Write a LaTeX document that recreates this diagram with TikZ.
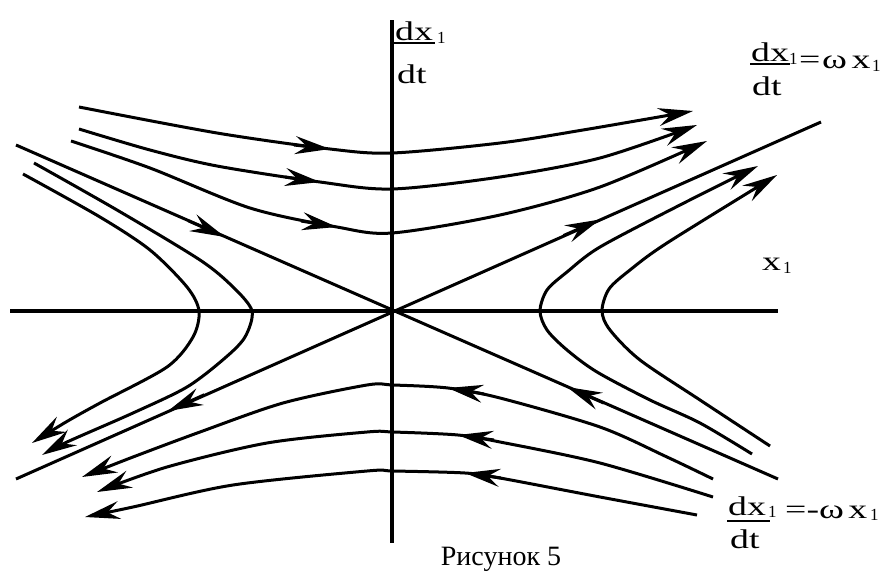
\documentclass[tikz,border=0pt]{standalone}
\usepackage{fontspec}
\setmainfont{Liberation Serif}
\newfontfamily\widefont[FakeStretch=1.4]{Liberation Serif}
\usetikzlibrary{arrows.meta}
\begin{document}
\begin{tikzpicture}[x=1pt,y=-1pt,
  ax/.style={line width=3.3pt},
  traj/.style={line width=3pt, line join=round},
  arr/.style={traj,-{Stealth[length=35pt,width=18pt,inset=12pt]}},
  lab/.style={inner sep=0pt,anchor=base west,font=\widefont\fontsize{27}{27}\selectfont},
  sub/.style={inner sep=0pt,anchor=base west,font=\fontsize{17}{17}\selectfont},
  fracbar/.style={line width=2pt}]
\useasboundingbox (0,0) rectangle (883,573);
\fill[white] (0,0) rectangle (883,573);

% axes
\coordinate (O) at (392,311);
\coordinate (xl) at (10,311); \coordinate (xr) at (778,311);
\coordinate (yt) at (392,20); \coordinate (yb) at (392,543);
\draw[ax] (xl) -- (xr);
\draw[ax] (yt) -- (yb);

% separatrices
\coordinate (S1a) at (16,479); \coordinate (S1b) at (821,122);
\coordinate (S2a) at (16,145); \coordinate (S2b) at (778,479);
\coordinate (T1) at (600,219.5); \coordinate (T2) at (168,411);
\coordinate (T3) at (225,237); \coordinate (T4) at (567,387);
\coordinate (U1) at (563.4,235.6); \coordinate (U2) at (204.5,394.7);
\coordinate (U3) at (188.4,220.8); \coordinate (U4) at (603.7,403);
\draw[traj] (S1a) -- (S1b);
\draw[traj] (S2a) -- (S2b);
\draw[arr] (U1) -- (T1);
\draw[arr] (U2) -- (T2);
\draw[arr] (U3) -- (T3);
\draw[arr] (U4) -- (T4);

% upper trajectories (left to right)
\draw[arr] plot[smooth] coordinates {(79,107) (217,133) (330,149) (392,153) (500,143) (583,130) (693,111)};
\draw[arr] plot[smooth] coordinates {(79,129) (150,150) (217,166) (320,182) (392,189) (500,177) (600,158) (697,125)};
\draw[arr] plot[smooth] coordinates {(71,141) (150,168) (250,208) (337,227) (392,233) (500,215) (600,187) (707,141)};
\coordinate (a1) at (294,145); \coordinate (a2) at (330,149);
\coordinate (b1) at (285,177); \coordinate (b2) at (320,182);
\coordinate (c1) at (301,221); \coordinate (c2) at (337,227);
\draw[arr] (a1) -- (a2);
\draw[arr] (b1) -- (b2);
\draw[arr] (c1) -- (c2);

% lower trajectories (right to left)
\draw[arr] plot[smooth] coordinates {(713,479) (667,457) (600,427) (500,398) (448,388) (393,385) (367,385) (283,403) (200,432) (133,457) (82,477)};
\draw[arr] plot[smooth] coordinates {(713,497) (600,463) (500,442) (458,435) (393,432) (367,432) (267,443) (167,467) (97,492)};
\draw[arr] plot[smooth] coordinates {(697,515) (600,497) (500,478) (465,473) (393,471) (367,471) (233,485) (133,507) (85,517)};
\coordinate (d1) at (484,394); \coordinate (d2) at (448,388);
\coordinate (e1) at (494,440); \coordinate (e2) at (458,435);
\coordinate (f1) at (501,478); \coordinate (f2) at (465,473);
\draw[arr] (d1) -- (d2);
\draw[arr] (e1) -- (e2);
\draw[arr] (f1) -- (f2);

% right hyperbolas
\draw[arr] plot[smooth] coordinates {(752,454) (700,423) (650,400) (597,372) (567,350) (547,330) (540,311) (547,290) (567,272) (600,247) (680,205) (758,166)};
\draw[arr] plot[smooth] coordinates {(770,446) (700,400) (640,360) (610,330) (602,311) (609,289) (630,270) (667,243) (777,175)};

% left hyperbolas
\draw[arr] plot[smooth] coordinates {(34,163) (117,210) (200,260) (233,287) (252,311) (245,337) (225,358) (187,387) (133,413) (67,442) (42,455)};
\draw[arr] plot[smooth] coordinates {(23,174) (100,217) (150,250) (187,287) (199,311) (193,337) (167,367) (100,403) (66,422) (32,443)};

% labels: vertical axis
\node[lab] (vn) at (395,40) {dx};
\node[sub] (vs) at (437,43) {1};
\node[lab] (vd) at (397,83) {dt};
\draw[fracbar] ([yshift=-3pt,xshift=-1pt]vn.base west) -- ([yshift=-3pt,xshift=2pt]vn.base east);

% upper right label
\node[lab] (an) at (751,61) {dx};
\node[sub] (as) at (789,64) {1};
\node[lab] (ad) at (752,95) {dt};
\draw[fracbar] ([yshift=-3pt,xshift=-1pt]an.base west) -- ([yshift=-3pt,xshift=1pt]an.base east);
\node[lab] (aeq) at (799,68) {=};
\node[lab] (ar) at (822,68) {ω\,x};
\node[sub] (ars) at (872,71) {1};

% lower right label
\node[lab] (bn) at (728,515) {dx};
\node[sub] (bs) at (768,517) {1};
\node[lab] (bd) at (730,548) {dt};
\draw[fracbar] ([yshift=-6pt,xshift=-1pt]bn.base west) -- ([yshift=-6pt,xshift=4pt]bn.base east);
\node[lab] (br) at (785,518) {=-ω\,x};
\node[sub] (brs) at (870,520) {1};

% x axis label
\node[lab] (xlab) at (762,270) {x};
\node[sub] (xlabs) at (783,273) {1};

% caption
\node[inner sep=0pt,anchor=base,font=\fontsize{28}{28}\selectfont] (cap) at (501,565) {Рисунок 5};
\end{tikzpicture}
\end{document}
